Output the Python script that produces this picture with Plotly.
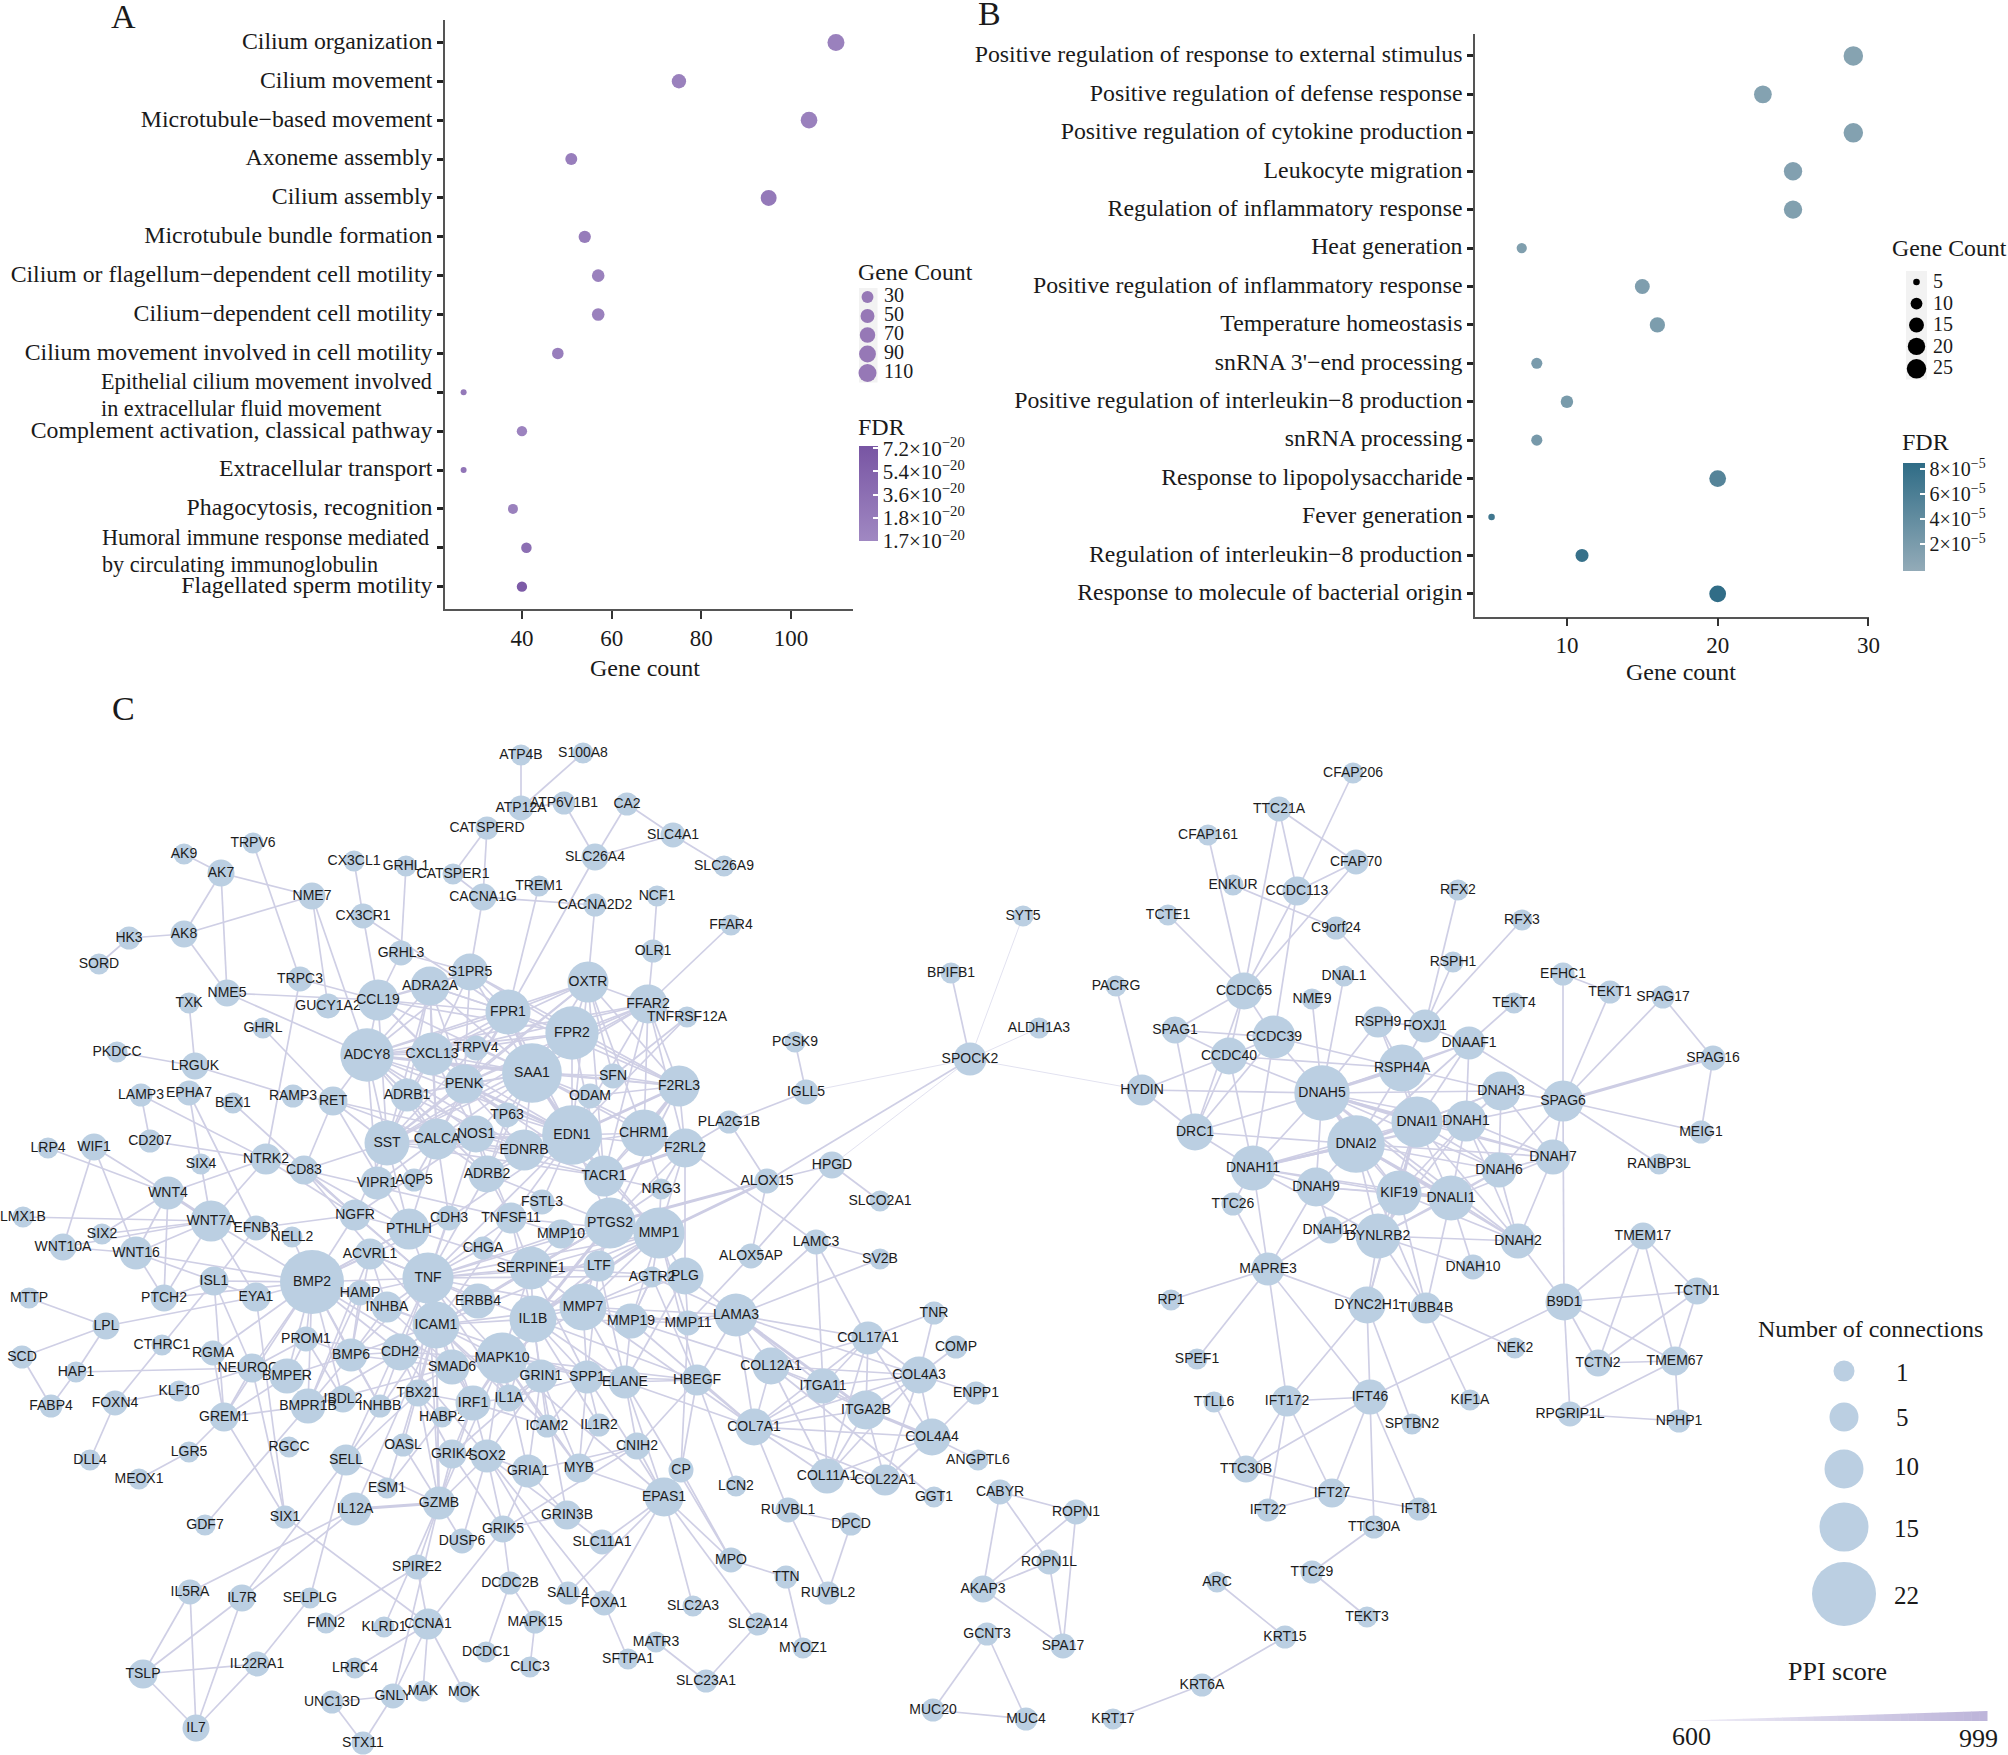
import numpy as np
import plotly.graph_objects as go

W, H = 2008, 1755
SERIF = "Liberation Serif"
SANS = "Liberation Sans"

# ---------- Panel A ----------
TERMS_A = ["Cilium organization", "Cilium movement", "Microtubule\u2212based movement", "Axoneme assembly",
           "Cilium assembly", "Microtubule bundle formation", "Cilium or flagellum\u2212dependent cell motility",
           "Cilium\u2212dependent cell motility", "Cilium movement involved in cell motility", "",
           "Complement activation, classical pathway", "Extracellular transport", "Phagocytosis, recognition", "",
           "Flagellated sperm motility"]
COUNT_A = [110, 75, 104, 51, 95, 54, 57, 57, 48, 27, 40, 27, 38, 41, 40]
FDR_LEVEL_A = [0.6, 0.6, 0.6, 0.8, 1.2, 1.0, 0.6, 0.6, 0.8, 1.2, 0.4, 1.5, 0.6, 2.0, 3.6]
SPLIT_LABELS_A = [("Epithelial cilium movement involved", 98.5, 381), ("in extracellular fluid movement", 98.5, 408.5),
                  ("Humoral immune response mediated", 100, 537), ("by circulating immunoglobulin", 100, 564)]
FDR_TICKS_A = ["1.7\u00d710<sup>\u221220</sup>", "1.8\u00d710<sup>\u221220</sup>", "3.6\u00d710<sup>\u221220</sup>",
               "5.4\u00d710<sup>\u221220</sup>", "7.2\u00d710<sup>\u221220</sup>"]
LEG_COUNT_A = [30, 50, 70, 90, 110]

# ---------- Panel B ----------
TERMS_B = ["Positive regulation of response to external stimulus", "Positive regulation of defense response",
           "Positive regulation of cytokine production", "Leukocyte migration", "Regulation of inflammatory response",
           "Heat generation", "Positive regulation of inflammatory response", "Temperature homeostasis",
           "snRNA 3'\u2212end processing", "Positive regulation of interleukin\u22128 production", "snRNA processing",
           "Response to lipopolysaccharide", "Fever generation", "Regulation of interleukin\u22128 production",
           "Response to molecule of bacterial origin"]
COUNT_B = [29, 23, 29, 25, 25, 7, 15, 16, 8, 10, 8, 20, 5, 11, 20]
FDR_B = [1.0, 1.1, 1.2, 1.3, 1.4, 1.5, 1.6, 1.8, 2.0, 2.1, 2.3, 5.2, 7.0, 7.8, 8.3]  # x 1e-5
LEG_COUNT_B = [5, 10, 15, 20, 25]

# ---------- Panel C: node name, layout x, layout y, number of connections ----------
NODES_NW = [("AK9",184,854,1),("TRPV6",253,843,1),("AK7",221,873,4),("NME7",312,896,4),("AK8",184,934,4),("HK3",129,938,2),
 ("SORD",99,964,1),("NME5",227,993,4),("TXK",189,1003,1),("TRPC3",300,979,3),("GUCY1A2",328,1006,3),("CX3CL1",354,861,1),
 ("GRHL1",406,866,1),("CATSPER1",453,874,1),("CATSPERD",487,828,2),("CX3CR1",363,916,3),("CACNA1G",483,897,4),("GRHL3",401,953,3),
 ("S1PR5",470,972,9),("ADRA2A",430,986,10),("CCL19",378,1000,11),("FPR1",508,1012,13),("GHRL",263,1028,1),("PKDCC",117,1052,1),
 ("LRGUK",195,1066,4),("ATP4B",521,755,1),("S100A8",583,753,1),("ATP12A",521,808,3),("ATP6V1B1",564,803,2),("CA2",627,804,2),
 ("SLC4A1",673,835,3),("SLC26A4",595,857,4),("SLC26A9",724,866,1),("TREM1",539,886,1),("CACNA2D2",595,905,2),("NCF1",657,896,1),
 ("FFAR4",731,925,1),("OLR1",653,951,2),("OXTR",588,982,11),("FFAR2",648,1004,10),("TNFRSF12A",687,1017,1),("FPR2",572,1033,17),
 ("PCSK9",795,1042,1),("BPIFB1",951,973,1),("SPOCK2",970,1059,7),("SYT5",1023,916,1),("ALDH1A3",1039,1028,1)]
NODES_HUB = [("ADCY8",367,1055,17),("CXCL13",432,1054,12),("TRPV4",476,1048,3),("PENK",464,1084,10),("SAA1",532,1073,20),
 ("F2RL3",679,1086,11),("SFN",613,1076,3),("ODAM",590,1096,3),("TP63",507,1115,3),("NOS1",476,1134,9),("EDN1",572,1135,20),
 ("CHRM1",644,1133,14),("EDNRB",524,1150,11),("F2RL2",685,1148,10),("TACR1",604,1176,11),("NRG3",661,1189,1),("FSTL3",542,1202,3),
 ("PTGS2",610,1223,16),("MMP1",659,1233,16),("MMP10",561,1234,5),("TNFSF11",511,1218,6),("CDH3",449,1218,3),("PTHLH",409,1229,11),
 ("NGFR",355,1215,6),("ADRB1",407,1095,7),("RAMP3",293,1096,2),("RET",333,1101,5),("SST",387,1143,13),("CALCA",437,1139,11),
 ("VIPR1",377,1183,7),("AQP5",414,1180,2),("ADRB2",487,1174,9),("NTRK2",266,1159,6),("CD83",304,1170,5),("NELL2",292,1237,1),
 ("EFNB3",256,1228,3),("ACVRL1",370,1254,6),("BMP2",312,1282,22),("TNF",428,1278,16),("CHGA",483,1248,2),("SERPINE1",531,1268,12),
 ("LTF",599,1266,6),("PLG",685,1276,9),("AGTR2",652,1277,1),("HAMP",360,1293,3),("INHBA",387,1307,6),("ERBB4",478,1301,8),
 ("ICAM1",436,1325,14),("IL1B",533,1319,14),("MMP7",583,1307,14),("MMP19",631,1321,8),("MMP11",688,1323,3),("PROM1",306,1339,3),
 ("BMP6",351,1355,7),("CDH2",400,1352,9),("SMAD6",452,1367,8),("MAPK10",502,1358,16),("GRIN1",541,1376,7),("SPP1",587,1377,7),
 ("ELANE",625,1382,7),("HBEGF",697,1380,6),("IL1A",509,1398,4),("TBX21",418,1393,4),("INHBB",380,1406,2),("IBDL2",343,1399,4),
 ("HABP2",442,1417,1),("ICAM2",547,1426,2),("IL1R2",599,1425,2),("CNIH2",637,1446,4),("CP",681,1470,3),("MYB",579,1468,5),
 ("GRIA1",528,1471,7),("GRIK4",452,1454,5),("OASL",403,1445,2),("SELL",346,1460,6),("RGCC",289,1447,1),("ESM1",387,1488,1),
 ("GZMB",439,1503,7),("IL12A",355,1509,7),("SIX1",285,1517,2),("GRIN3B",567,1515,5),("EPAS1",664,1497,10),("NEUROG1",252,1368,5)]
NODES_WEST = [("LAMP3",141,1095,2),("EPHA7",189,1093,3),("BEX1",233,1103,1),("CD207",150,1141,2),("WIF1",94,1147,4),("LRP4",48,1148,1),
 ("SIX4",201,1164,1),("WNT4",168,1193,7),("LMX1B",23,1217,1),("WNT7A",211,1221,11),("SIX2",102,1234,1),("WNT10A",63,1247,4),
 ("WNT16",136,1253,7),("ISL1",214,1281,5),("PTCH2",164,1298,4),("EYA1",256,1297,5),("MTTP",29,1298,1),("LPL",106,1326,4),
 ("CTHRC1",162,1345,1),("RGMA",213,1353,3),("HAP1",76,1372,1),("SCD",22,1357,2),("FOXN4",115,1403,3),("KLF10",179,1391,1),
 ("FABP4",51,1406,2),("GREM1",224,1417,5),("DLL4",90,1460,1),("LGR5",189,1452,1),("MEOX1",139,1479,1),("GDF7",205,1525,1)]
NODES_SW = [("SPIRE2",417,1567,3),("DUSP6",462,1541,3),("IL5RA",190,1592,3),("IL7R",242,1598,4),("SELPLG",310,1598,1),("FMN2",326,1623,1),
 ("KLRD1",384,1627,1),("CCNA1",428,1624,6),("TSLP",143,1674,5),("IL22RA1",257,1664,3),("LRRC4",355,1668,1),("UNC13D",332,1702,2),
 ("GNLY",393,1696,3),("MAK",423,1691,1),("MOK",464,1692,1),("IL7",196,1728,4),("STX11",363,1743,2),("DCDC1",486,1652,1),
 ("GRIK5",503,1529,4),("DCDC2B",510,1583,2),("SALL4",568,1593,2),("FOXA1",604,1603,3),("SLC11A1",602,1542,3),("SLC2A3",693,1606,1),
 ("SLC2A14",758,1624,2),("MAPK15",535,1622,2),("CLIC3",530,1667,1),("MATR3",656,1642,1),("SFTPA1",628,1659,1),("MYOZ1",803,1648,1),
 ("SLC23A1",706,1681,2),("MPO",731,1560,3),("TTN",786,1577,2),("RUVBL2",828,1593,2),("RUVBL1",788,1510,3),("DPCD",851,1524,2),("LCN2",736,1486,1)]
NODES_ECM = [("PLA2G1B",729,1122,2),("IGLL5",806,1092,3),("ALOX15",767,1181,3),("HPGD",832,1165,4),("SLCO2A1",880,1201,1),("LAMC3",816,1242,3),
 ("ALOX5AP",751,1256,3),("SV2B",880,1259,1),("LAMA3",736,1315,12),("TNR",934,1313,2),("COL17A1",868,1338,7),("COMP",956,1347,2),
 ("COL12A1",771,1366,9),("COL4A3",919,1375,9),("ITGA11",823,1386,8),("ENPP1",976,1393,2),("ITGA2B",866,1410,10),("COL7A1",754,1427,9),
 ("COL4A4",932,1437,9),("ANGPTL6",978,1460,1),("COL11A1",827,1476,8),("COL22A1",885,1480,6),("GGT1",934,1497,1)]
NODES_SPERM = [("CABYR",1000,1492,3),("ROPN1",1076,1512,3),("ROPN1L",1049,1562,3),("AKAP3",983,1589,4),("SPA17",1063,1646,3),
 ("GCNT3",987,1634,2),("MUC20",933,1710,2),("MUC4",1026,1719,2),("ARC",1217,1582,1),("KRT15",1285,1637,2),("KRT6A",1202,1685,2),("KRT17",1113,1719,1)]
NODES_CILIA = [("CFAP206",1353,773,1),("TTC21A",1279,809,3),("CFAP161",1208,835,1),("CFAP70",1356,862,3),("ENKUR",1233,885,1),("CCDC113",1297,891,5),
 ("TCTE1",1168,915,1),("C9orf24",1336,928,2),("RFX2",1458,890,1),("RFX3",1522,920,1),("RSPH1",1453,962,1),("DNAL1",1344,976,1),("NME9",1312,999,1),
 ("PACRG",1116,986,1),("CCDC65",1244,991,9),("RSPH9",1378,1022,6),("FOXJ1",1425,1026,7),("TEKT4",1514,1003,1),("EFHC1",1563,974,2),("TEKT1",1610,992,2),
 ("SPAG17",1663,997,2),("DNAAF1",1469,1043,7),("SPAG1",1175,1030,4),("CCDC39",1274,1037,12),("CCDC40",1229,1056,9),("RSPH4A",1402,1068,14),
 ("SPAG16",1713,1058,3),("SPAG6",1563,1101,11),("DNAH3",1501,1091,10),("DNAH5",1322,1093,18),("HYDIN",1142,1090,6),("DNAI1",1417,1122,16),
 ("DNAH1",1466,1121,11),("MEIG1",1701,1132,2),("DRC1",1195,1132,9),("DNAI2",1356,1144,19),("DNAH7",1553,1157,8),("RANBP3L",1659,1164,1),
 ("DNAH6",1499,1170,8),("DNAH11",1253,1168,13),("TTC26",1233,1204,2),("DNAH9",1316,1187,10),("KIF19",1399,1193,13),("DNALI1",1451,1198,13),
 ("DNAH12",1330,1230,4),("DYNLRB2",1378,1236,13),("DNAH2",1518,1241,8),("TMEM17",1643,1236,4),("DNAH10",1473,1267,3),("MAPRE3",1268,1269,7),
 ("RP1",1171,1300,1),("DYNC2H1",1367,1305,9),("TUBB4B",1426,1308,6),("B9D1",1564,1302,9),("TCTN1",1697,1291,4),("NEK2",1515,1348,1),
 ("TCTN2",1598,1363,4),("TMEM67",1675,1361,5),("RPGRIP1L",1570,1414,3),("NPHP1",1679,1421,2),("SPEF1",1197,1359,1),("TTLL6",1214,1402,1),
 ("IFT172",1287,1401,6),("IFT46",1370,1397,8),("KIF1A",1470,1400,1),("SPTBN2",1412,1424,1),("TTC30B",1246,1469,4),("IFT27",1332,1493,5),
 ("IFT22",1268,1510,2),("IFT81",1419,1509,2),("TTC30A",1374,1527,2),("TTC29",1312,1572,2),("TEKT3",1367,1617,1)]
NODES_ON_TOP = [("BMPER",287,1376,8),("IRF1",473,1403,8),("SOX2",487,1456,7),("BMPR1B",308,1406,8)]

# edges: "hub: partners"
EDGES_THIN = """SPOCK2: IGLL5 SYT5 ALDH1A3 HYDIN HPGD"""
EDGES_THICK = """TACR1: F2RL2
ALOX15: MMP1 PTGS2
ITGA2B: COL4A4 LAMA3
WNT4: WNT7A
IL12A: GZMB
SAA1: FPR2 FPR1 EDN1 ADCY8
F2RL3: EDN1 CHRM1
DNAI2: DNAH11 DNALI1 DNAI1 DNAH5
KIF19: DNAI1 DNALI1
DNAH5: DNAI1 RSPH4A
EDN1: PENK
MMP1: IL1B
PTGS2: IL1B
SPAG6: SPAG16"""
EDGES_MID = """AK7: AK9 NME7 AK8 NME5
AK8: NME7 HK3 NME5
HK3: SORD
TRPV6: TRPC3
NME7: GUCY1A2 ADCY8
NME5: CCL19 ADCY8
TRPC3: CCL19 NTRK2
TXK: LRGUK
LRGUK: PKDCC RAMP3
RAMP3: RET
GHRL: RET
CX3CL1: CX3CR1
CX3CR1: CCL19 FPR1
GRHL1: GRHL3
GRHL3: CCL19 S1PR5
CATSPERD: CATSPER1 CACNA1G
CATSPER1: CACNA1G
CACNA1G: S1PR5 CACNA2D2
TREM1: FPR1
ATP12A: ATP4B S100A8 ATP6V1B1
ATP6V1B1: SLC26A4
CA2: SLC26A4 SLC4A1
SLC4A1: SLC26A4 SLC26A9
SLC26A4: FPR1
CACNA2D2: OXTR
OLR1: NCF1 FFAR2
FFAR2: FFAR4 OXTR
PCSK9: IGLL5
IGLL5: PLA2G1B
PLA2G1B: F2RL2 ALOX15
SPOCK2: BPIFB1 ALOX15
HPGD: ALOX15 SLCO2A1 ALOX5AP
ALOX15: ALOX5AP
ALOX5AP: MMP11
F2RL2: LAMC3 NRG3 PTGS2 MMP1 PLG
LAMC3: SV2B LAMA3 ITGA11 COL17A1
SV2B: LAMA3
LAMP3: CD207 NTRK2
EPHA7: SIX4 EFNB3
BEX1: NGFR
CD207: NTRK2
LRP4: WNT4
WIF1: WNT4 WNT16 WNT10A
SIX4: WNT7A
NTRK2: WNT4 WNT7A CD83 NGFR
WNT4: SIX2 WNT16 PTCH2
WNT7A: LMX1B WNT10A WNT16 SIX2 PTCH2 BMP2 EYA1
WNT10A: WNT16
WNT16: BMP2 PTCH2 ISL1
EFNB3: NGFR ISL1
ISL1: BMP2 EYA1 PTCH2 GREM1 NEUROG1
EYA1: BMP2 SIX1
PTCH2: BMP2
LPL: MTTP EYA1 SCD HAP1
HAP1: FABP4 NEUROG1
SCD: FABP4
FOXN4: CTHRC1 KLF10 DLL4
CTHRC1: ISL1
KLF10: NEUROG1
RGMA: BMP2 GREM1
NEUROG1: SIX1 BMP2 GREM1
GREM1: BMPR1B BMP2 LGR5 SIX1 BMPER
LGR5: MEOX1
BMP2: PROM1 BMP6 BMPER BMPR1B CDH2 HAMP INHBA TNF ICAM1 ACVRL1 NELL2 NGFR SMAD6 IBDL2 INHBB PTHLH CDH3
BMPR1B: BMP6 ACVRL1 GDF7
SELL: IL7R ICAM1 SELPLG GZMB TBX21
IL12A: IL5RA IL7R ICAM1
ESM1: ICAM1 HABP2
SIX1: CCNA1
SPIRE2: FMN2 GZMB CCNA1
KLRD1: GZMB
CCNA1: LRRC4 GNLY MAK MOK GRIK5
GNLY: GZMB UNC13D STX11
UNC13D: STX11
SELPLG: IL22RA1
IL5RA: TSLP IL7
IL7R: TSLP IL7
IL22RA1: TSLP IL7
TSLP: IL7
DUSP6: GZMB SOX2
GZMB: SOX2 TBX21 OASL ICAM1 GRIK4
DCDC2B: DCDC1 MAPK15 GRIK5
MAPK15: CLIC3
GRIK5: GRIN3B GRIA1 GRIK4 CNIH2 SOX2
SALL4: SOX2 EPAS1
FOXA1: EPAS1 SFTPA1 SOX2
SLC11A1: EPAS1 GRIN3B
MYB: EPAS1 CNIH2 SPP1 IL1R2 ICAM2
GRIN3B: GRIN1 GRIA1
GRIA1: CNIH2 GRIN1
CP: EPAS1 MPO HBEGF MMP11
EPAS1: SLC2A3 SLC2A14 MPO ELANE CNIH2
MPO: TTN ELANE
TTN: MYOZ1
RUVBL1: RUVBL2 DPCD COL7A1
DPCD: RUVBL2
LCN2: HBEGF
HBEGF: LAMA3 ELANE COL7A1 CNIH2 MMP1
MATR3: SLC23A1
SLC2A14: SLC23A1
LAMA3: COL7A1 COL12A1 COL17A1 ITGA11 MMP11 MMP19 COL4A3
COL17A1: TNR COL12A1 COL4A3 ITGA11 ITGA2B COL7A1 COL4A4 COL11A1
TNR: COL4A3
COMP: COL4A3
ENPP1: COL4A3 COL4A4
COL4A3: COL12A1 ITGA11 ITGA2B COL7A1 COL4A4 COL11A1 COL22A1
ITGA2B: COL7A1 COL12A1 COL11A1 COL22A1 ITGA11
ITGA11: COL12A1 COL7A1 COL11A1
COL7A1: COL4A4 COL11A1 COL22A1
COL12A1: COL11A1 COL7A1 GGT1
COL4A4: COL11A1 COL22A1 ANGPTL6
COL11A1: COL22A1
S1PR5: FPR1 FPR2 ADCY8 CXCL13 ADRA2A CCL19 PENK SAA1 F2RL3
ADRA2A: CCL19 FPR1 ADCY8 CXCL13 ADRB1 SST PENK FPR2 SAA1 CALCA
CCL19: ADCY8 CXCL13 FPR1 FPR2 SAA1 PENK SST
FPR1: FPR2 ADCY8 CXCL13 TRPV4 PENK OXTR SST CALCA EDN1 F2RL3
FPR2: OXTR FFAR2 F2RL3 EDN1 CXCL13 ADCY8 PENK TACR1 SST
OXTR: SAA1 EDN1 F2RL3 CHRM1 SST PENK CXCL13 ADCY8 SFN TACR1
FFAR2: SAA1 EDN1 F2RL3 F2RL2 CHRM1 CXCL13 ADCY8 PENK TACR1 SST
TNFRSF12A: SFN EDN1 FFAR2
F2RL3: SAA1 F2RL2 TACR1 ADCY8 SFN ODAM PTGS2
SAA1: CXCL13 PENK SFN ODAM CHRM1 TP63 NOS1 EDNRB SST CALCA ADRB1 TACR1 TRPV4 ADRB2 F2RL2
ADCY8: CXCL13 ADRB1 SST CALCA RET PENK NOS1 EDNRB EDN1 ADRB2 TRPV4 VIPR1
CXCL13: PENK ADRB1 SST CALCA EDN1 TRPV4 NOS1
PENK: SST CALCA ADRB1 EDNRB TP63 TACR1 NOS1
ADRB1: SST CALCA ADRB2 EDNRB
RET: SST CALCA CD83 NOS1 PTHLH
SST: CALCA NGFR VIPR1 AQP5 PTHLH NOS1 EDN1 TACR1 EDNRB CD83
CALCA: NOS1 EDN1 EDNRB ADRB2 AQP5 VIPR1 PTHLH CDH3 TACR1
NOS1: EDN1 ADRB2 NGFR EDNRB TNF TNFSF11
TP63: EDN1 ADRB2
EDN1: EDNRB CHRM1 TACR1 F2RL2 PTGS2 ADRB2 FSTL3 TNF MMP1 ODAM TNFSF11 CDH3
EDNRB: ADRB2 TACR1 CHRM1
CHRM1: F2RL2 TACR1 NRG3
TACR1: PTGS2 NRG3 MMP1
NRG3: PTGS2 MMP1
ADRB2: TNFSF11 PTGS2 TNF
TNFSF11: TNF MMP1 SERPINE1 ICAM1 IL1B MMP10 CD83
PTHLH: TNF BMP2 NGFR CDH3 SERPINE1
NGFR: TNF CD83
CD83: ICAM1 TNF PTHLH
TNF: ICAM1 IL1B SERPINE1 MMP1 PTGS2 ERBB4 CHGA MMP7 MAPK10 ACVRL1 INHBA SMAD6 CDH2 HAMP CDH3 LTF PLG MMP10 BMP6 TBX21 IRF1 IL1A GZMB SELL
PTGS2: MMP1 SERPINE1 MMP7 MMP10 LTF ICAM1 MAPK10 ERBB4
MMP1: SERPINE1 MMP7 LTF PLG AGTR2 MMP10 MMP19 ICAM1 MMP11
SERPINE1: IL1B MMP7 PLG LTF ICAM1 MMP10 ERBB4 MAPK10 SPP1
IL1B: MMP7 ICAM1 MAPK10 MMP19 SPP1 ELANE LTF IL1A IL1R2 IRF1 ICAM2 GRIN1 HBEGF
MMP7: MMP19 MMP11 SPP1 ELANE ICAM1 MAPK10 LAMA3 COL7A1 AGTR2 PLG
MMP19: MMP11 LAMA3 COL7A1 COL12A1 ELANE AGTR2
ICAM1: MAPK10 CDH2 SMAD6 ERBB4 IRF1 GZMB INHBA OASL IL1A TBX21 ICAM2 SPP1 BMP6
MAPK10: GRIN1 SPP1 SMAD6 IRF1 IL1A SOX2 GRIA1 GZMB MYB ICAM2 EPAS1 HBEGF CDH2 ELANE
GRIN1: GRIK4 SOX2 MYB IL1A
SPP1: ELANE ICAM2 IL1R2 IL1A HBEGF EPAS1
CDH2: BMP6 SMAD6 INHBB TBX21 PROM1 BMPR1B SOX2
SMAD6: BMP6 INHBA BMPR1B IRF1 INHBB
BMP6: INHBB PROM1 BMPER INHBA
PROM1: NEUROG1 BMPER IBDL2
TBX21: IRF1 GRIK4 HABP2
IRF1: IL1A GZMB SOX2 ICAM2 HABP2 GRIK4
SOX2: GRIK4 GRIA1 GRIN3B
LTF: SPP1 ELANE
PLG: AGTR2 LAMA3 MMP11 ELANE
AGTR2: MMP19 HBEGF LAMA3
HAMP: INHBA BMP6 BMPR1B
ACVRL1: INHBA BMP6 TNF
ELANE: COL7A1 CNIH2
TTC21A: CFAP70 CCDC113 CCDC65
CFAP206: CCDC113
CFAP161: CCDC65
CFAP70: CCDC113 CCDC65
ENKUR: C9orf24
CCDC113: CCDC65 CCDC39
TCTE1: CCDC65
C9orf24: FOXJ1
FOXJ1: RFX2 RFX3 RSPH1 RSPH4A DNAAF1 RSPH9
TEKT4: DNAAF1
DNAH5: DNAL1 NME9 DNAH1 DNAH3 DNAH11 DNAH9 KIF19 DNALI1 DNAH6 DNAH7 DNAH2
PACRG: HYDIN
CCDC65: SPAG1 CCDC39 CCDC40 DRC1
SPAG1: CCDC39 CCDC40 DRC1
CCDC39: CCDC40 DNAH5 DRC1 DNAH11 RSPH4A
CCDC40: HYDIN DRC1 DNAH5 RSPH4A DNAH11
HYDIN: DRC1 DNAH5
DRC1: DNAH5 DNAI2 DNAH11
RSPH9: RSPH4A DNAH5 DNAI1
DNAAF1: RSPH4A DNAI1 DNAH5 DNAH1 SPAG6 DNAI2
DNAI2: DNAH1 DNAH3 DNAH9 KIF19 DNAH6 DNAH7 DNAH2 DYNLRB2 RSPH4A
DNAI1: DNAH1 DNAH3 DNAH11 DNALI1 DNAH6 DNAH7 DNAH2 DYNLRB2 RSPH4A
DNAH1: DNAH3 DNAH6 DNAH7 DNAH2 KIF19 DNALI1 DNAH11 DYNLRB2
DNAH3: SPAG6 DNAH6 DNAH7 RSPH4A
SPAG6: EFHC1 TEKT1 SPAG17 MEIG1 RANBP3L DNAH7 B9D1 DNAH1 DNAH6
EFHC1: TEKT1
SPAG17: SPAG16
SPAG16: MEIG1
DNAH7: DNAH6 DNAH2 DNALI1
DNAH6: DNAH2 DNALI1 KIF19 DYNLRB2
DNALI1: DNAH2 DNAH11 DYNLRB2 DNAH10 DNAH9
KIF19: DNAH9 DNAH11 DYNLRB2 DNAH12 DNAH2 DYNC2H1 TUBB4B
DNAH9: DNAH11 DNAH12 MAPRE3
DNAH11: MAPRE3 DYNLRB2 TTC26
TTC26: MAPRE3
DNAH12: MAPRE3
DYNLRB2: DNAH2 DNAH10 DYNC2H1 TUBB4B DNAH12
DNAH2: B9D1
TUBB4B: DNALI1 DNAI2 NEK2 KIF1A
DYNC2H1: MAPRE3 IFT172 IFT46 SPTBN2 DNAI1
MAPRE3: RP1 SPEF1 IFT172 IFT46
IFT172: IFT46 TTC30B IFT22 IFT27
IFT46: B9D1 TTC30B IFT27 TTC30A IFT81
TTLL6: TTC30B
TTC30B: IFT27
IFT22: IFT27
IFT27: IFT81
TTC30A: TTC29
TTC29: TEKT3
ARC: KRT15
KRT15: KRT6A
KRT6A: KRT17
B9D1: TMEM17 TCTN1 TCTN2 TMEM67 RPGRIP1L
TMEM17: TCTN1 TCTN2 TMEM67
TCTN1: TCTN2 TMEM67
TCTN2: TMEM67
TMEM67: RPGRIP1L NPHP1
RPGRIP1L: NPHP1
CABYR: ROPN1 ROPN1L AKAP3
ROPN1: AKAP3 SPA17
ROPN1L: AKAP3 SPA17
AKAP3: SPA17
GCNT3: MUC20 MUC4
MUC20: MUC4"""

LEG_CONN = [1, 5, 10, 15, 22]
LEG_CONN_Y = [1371, 1417, 1469, 1527, 1594]
LEG_CONN_DIAM = [21, 29, 39, 49, 64]

# ---------- helpers ----------
fx = lambda p: p / W
fy = lambda p: 1 - p / H
TXT = "#1a1a1a"
NODE_COL = "#BBCFE2"


def dot_size(v, vmin, vmax, dmin, dmax):
    return dmin + (dmax - dmin) * np.sqrt((np.asarray(v, float) - vmin) / (vmax - vmin))


def parse_edges(txt):
    out = []
    for line in txt.splitlines():
        hub, rest = line.split(":")
        out += [(hub.strip(), p) for p in rest.split()]
    return out


fig = go.Figure()

# Panel A trace
fig.add_trace(go.Scatter(x=COUNT_A, y=list(range(15)), mode="markers", xaxis="x", yaxis="y", showlegend=False,
    marker=dict(size=dot_size(COUNT_A, 27, 110, 6, 17), color=FDR_LEVEL_A, cmin=0, cmax=4.1, opacity=1,
                colorscale=[[0, "#A088C2"], [1, "#7855A3"]], line=dict(width=0),
                colorbar=dict(x=fx(859), xanchor="left", xpad=0, y=fy(446), yanchor="top", ypad=0, lenmode="pixels", len=95,
                              thicknessmode="pixels", thickness=19, outlinewidth=0, tickmode="array", tickvals=[0, 1, 2, 3, 4],
                              ticktext=FDR_TICKS_A, ticks="inside", ticklen=5, tickcolor="white", tickwidth=1.5,
                              tickfont=dict(family=SERIF, size=21, color=TXT)))))
# Panel B trace
fig.add_trace(go.Scatter(x=COUNT_B, y=list(range(15)), mode="markers", xaxis="x2", yaxis="y2", showlegend=False,
    marker=dict(size=dot_size(COUNT_B, 5, 29, 6.5, 19.5), color=FDR_B, cmin=-0.16, cmax=8.48, opacity=1,
                colorscale=[[0, "#93ABB8"], [1, "#2F6C86"]], line=dict(width=0),
                colorbar=dict(x=fx(1903), xanchor="left", xpad=0, y=fy(463), yanchor="top", ypad=0, lenmode="pixels", len=108,
                              thicknessmode="pixels", thickness=22, outlinewidth=0, tickmode="array", tickvals=[2, 4, 6, 8],
                              ticktext=["2\u00d710<sup>\u22125</sup>", "4\u00d710<sup>\u22125</sup>", "6\u00d710<sup>\u22125</sup>", "8\u00d710<sup>\u22125</sup>"],
                              ticks="inside", ticklen=5, tickcolor="white", tickwidth=1.5,
                              tickfont=dict(family=SERIF, size=20, color=TXT)))))

# Network
NODE_GROUPS = [NODES_NW, NODES_WEST, NODES_SW, NODES_HUB, NODES_ECM, NODES_SPERM, NODES_CILIA, NODES_ON_TOP]
nodes = [n for g in NODE_GROUPS for n in g]
pos = {n[0]: (n[1], n[2]) for n in nodes}
for txt, width, col in [(EDGES_THIN, 1.0, "#E2E2F0"), (EDGES_MID, 1.7, "#CFCFE5"), (EDGES_THICK, 3.0, "#CDCDE4")]:
    xs, ys = [], []
    for a, b in parse_edges(txt):
        if a in pos and b in pos:
            xs += [pos[a][0], pos[b][0], None]
            ys += [pos[a][1], pos[b][1], None]
        else:
            print("missing", a, b)
    fig.add_trace(go.Scatter(x=xs, y=ys, mode="lines", xaxis="x3", yaxis="y3", showlegend=False, hoverinfo="skip",
                             line=dict(color=col, width=width)))
for name, x, y, c in nodes:
    fig.add_trace(go.Scatter(x=[x], y=[y], mode="markers+text", text=[name], textposition="middle center", xaxis="x3", yaxis="y3",
                             showlegend=False, cliponaxis=False,
                             textfont=dict(family=SANS, size=14, color="#1c1c1c"),
                             marker=dict(size=float(np.interp(c, LEG_CONN, LEG_CONN_DIAM)), color=NODE_COL, opacity=1, line=dict(width=0))))

# Size legends
shapes = [
    dict(type="rect", xref="x3", yref="y3", x0=859, x1=877.5, y0=288, y1=382.6, fillcolor="#F2F2F2", line=dict(width=0), layer="below"),
    dict(type="rect", xref="x3", yref="y3", x0=1906, x1=1927, y0=271, y1=379.5, fillcolor="#F2F2F2", line=dict(width=0), layer="below"),
]
fig.add_trace(go.Scatter(x=[867.5] * 5, y=[297, 316, 335, 354, 373], mode="markers", xaxis="x3", yaxis="y3", showlegend=False,
                         marker=dict(size=dot_size(LEG_COUNT_A, 10, 110, 7, 18), color="#9678B6", opacity=1, line=dict(width=0))))
fig.add_trace(go.Scatter(x=[1916.5] * 5, y=[282, 303.6, 325, 346.4, 368.8], mode="markers", xaxis="x3", yaxis="y3", showlegend=False,
                         marker=dict(size=dot_size(LEG_COUNT_B, 4, 29, 3, 21), color="black", opacity=1, line=dict(width=0))))
fig.add_trace(go.Scatter(x=[1844] * 5, y=LEG_CONN_Y, mode="markers", xaxis="x3", yaxis="y3", showlegend=False,
                         marker=dict(size=LEG_CONN_DIAM, color=NODE_COL, opacity=1, line=dict(width=0))))

# PPI wedge legend
N = 40
for i in range(N):
    t0, t1 = i / N, (i + 1) / N
    xa, xb = 1672 + 315 * t0, 1672 + 315 * t1
    c = [int(244 + (189 - 244) * t1), int(243 + (181 - 243) * t1), int(250 + (218 - 250) * t1)]
    shapes.append(dict(type="path", xref="x3", yref="y3", layer="below", line=dict(width=0), fillcolor=f"rgb({c[0]},{c[1]},{c[2]})",
                       path=f"M{xa},1721 L{xb+0.5},1721 L{xb+0.5},{1721-10*t1} L{xa},{1721-10*t0} Z"))

anns = []


def note(text, x, y, size, anchor="left", family=SERIF):
    anns.append(dict(text=text, x=x, y=y, xref="x3", yref="y3", xanchor=anchor, yanchor="middle", showarrow=False,
                     font=dict(family=family, size=size, color=TXT), align="left"))


note("A", 123, 16, 34, "center")
note("B", 989, 13, 34, "center")
note("C", 123, 708, 34, "center")
for t, x, y in SPLIT_LABELS_A:
    note(t, x, y, 22.2)
note("Gene count", 645, 668, 24, "center")
note("Gene count", 1681, 672, 24, "center")
note("Gene Count", 856, 272, 23.8)
note("Gene Count", 1890, 248, 23.8)
note("FDR", 856, 427, 24)
note("FDR", 1900, 442, 24)
for v, y in zip(LEG_COUNT_A, [295, 314, 333, 352, 371]):
    note(str(v), 881.5, y, 20)
for v, y in zip(LEG_COUNT_B, [281, 303, 324, 345.5, 367]):
    note(str(v), 1931, y, 20)
note("Number of connections", 1870.5, 1329, 24, "center")
for v, y, x in zip(LEG_CONN, [1372, 1417, 1466, 1528, 1595], [1902.6, 1902.6, 1906.6, 1906.6, 1906.6]):
    note(str(v), x, y, 25, "center")
note("PPI score", 1837.6, 1671, 26, "center")
note("600", 1691, 1736, 26, "center")
note("999", 1978, 1738, 26, "center")

axis_common = dict(showgrid=False, zeroline=False, showline=True, linecolor="#555555", linewidth=1.5)
xtick = dict(ticks="outside", ticklen=8, tickwidth=2, tickcolor="#333333", tickfont=dict(family=SERIF, size=23, color=TXT), ticklabelstandoff=-1)
ytick = dict(ticks="outside", ticklen=6, tickwidth=3, tickcolor="#222222", tickfont=dict(family=SERIF, size=23.8, color=TXT), ticklabelshift=2)
fig.update_layout(
    width=W, height=H, autosize=False, margin=dict(l=0, r=0, t=0, b=0, autoexpand=False), paper_bgcolor="white", plot_bgcolor="rgba(0,0,0,0)",
    showlegend=False, hovermode="closest", shapes=shapes, annotations=anns,
    xaxis=dict(domain=[fx(445), fx(853)], anchor="y", range=[22.85, 113.8], tickmode="array", tickvals=[40, 60, 80, 100], **axis_common, **xtick),
    yaxis=dict(domain=[fy(609.4), fy(19.6)], anchor="x", range=[14.585, -0.587], tickmode="array", tickvals=list(range(15)), ticktext=TERMS_A, **axis_common, **ytick),
    xaxis2=dict(domain=[fx(1475), fx(1869)], anchor="y2", range=[3.9, 30.04], tickmode="array", tickvals=[10, 20, 30], **axis_common, **xtick),
    yaxis2=dict(domain=[fy(616.5), fy(33.5)], anchor="x2", range=[14.59, -0.584], tickmode="array", tickvals=list(range(15)), ticktext=TERMS_B, **axis_common, **ytick),
    xaxis3=dict(domain=[0, 1], anchor="y3", range=[0, W], visible=False, fixedrange=True),
    yaxis3=dict(domain=[0, 1], anchor="x3", range=[H, 0], visible=False, fixedrange=True),
)

fig.write_html("out.html", config={"displayModeBar": False},
               post_script="document.body.style.margin='0';document.documentElement.style.overflow='hidden';")
